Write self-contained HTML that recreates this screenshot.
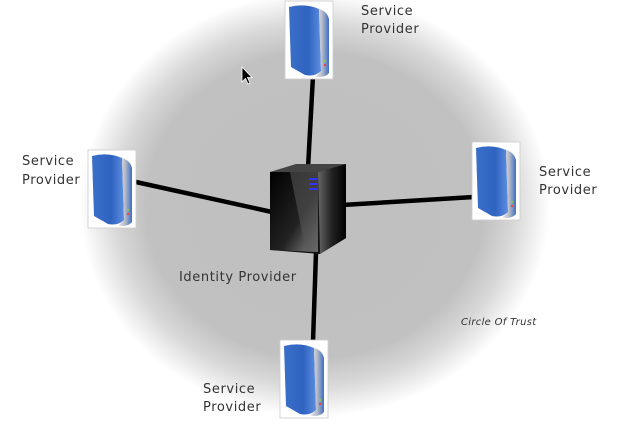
<!DOCTYPE html>
<html><head><style>
html,body{margin:0;padding:0;background:#fff;}
svg{display:block;}
text{font-family:"DejaVu Sans","Liberation Sans",sans-serif;fill:#333;letter-spacing:0.6px;}
</style></head><body>
<svg width="621" height="439" viewBox="0 0 621 439" xmlns="http://www.w3.org/2000/svg">
<defs>
<radialGradient id="bg" cx="0.5" cy="0.5" r="0.5">
<stop offset="0" stop-color="#bfbfbf"/>
<stop offset="0.72" stop-color="#c1c1c1"/>
<stop offset="0.85" stop-color="#d8d8d8"/>
<stop offset="1" stop-color="#ffffff"/>
</radialGradient>
<linearGradient id="blue" x1="0" y1="0" x2="1" y2="0">
<stop offset="0" stop-color="#3a6fc8"/>
<stop offset="0.6" stop-color="#2f63c0"/>
<stop offset="1" stop-color="#5d8de0"/>
</linearGradient>
<linearGradient id="side" x1="0" y1="0" x2="1" y2="0">
<stop offset="0" stop-color="#e8eaf0"/>
<stop offset="0.5" stop-color="#b8bcc8"/>
<stop offset="1" stop-color="#3e6cc4"/>
</linearGradient>
<linearGradient id="blk" x1="0" y1="0" x2="1" y2="1">
<stop offset="0" stop-color="#000"/>
<stop offset="0.6" stop-color="#222"/>
<stop offset="1" stop-color="#888"/>
</linearGradient>
<linearGradient id="blk2" x1="0" y1="0" x2="1" y2="0">
<stop offset="0" stop-color="#666"/>
<stop offset="0.5" stop-color="#222"/>
<stop offset="1" stop-color="#000"/>
</linearGradient>
<g id="sp">
<rect x="0" y="0" width="48" height="78" fill="#fff" stroke="#ccc" stroke-width="0.8"/>
<path d="M4 6 Q20 2 34 8 L36 70 Q30 76 20 74 L6 66 Z" fill="url(#blue)"/>
<path d="M34 8 Q42 10 44 18 L44 72 Q40 77 30 76 L36 70 Z" fill="url(#side)"/>
<circle cx="40" cy="60" r="1.2" fill="#8c4"/>
<circle cx="40" cy="64" r="1.2" fill="#e44"/>
</g>
</defs>
<ellipse cx="315" cy="205" rx="235" ry="212" fill="url(#bg)"/>
<g stroke="#000" stroke-width="4.5" stroke-linecap="butt">
<line x1="313" y1="76" x2="308" y2="168"/>
<line x1="136" y1="182" x2="272" y2="212"/>
<line x1="342" y1="205" x2="474" y2="197"/>
<line x1="316" y1="252" x2="313" y2="342"/>
</g>
<use href="#sp" x="285" y="1"/>
<use href="#sp" x="88" y="150"/>
<use href="#sp" x="472" y="142"/>
<use href="#sp" x="280" y="340"/>
<g>
<path d="M270 172 L296 168 L346 164 L346 238 L320 254 L270 250 Z" fill="#111"/>
<path d="M270 172 L318 172 L318 252 L270 250 Z" fill="url(#blk)"/>
<path d="M290 172 L318 172 L318 252 L306 252 Z" fill="#555" opacity="0.6"/>
<path d="M318 172 L346 164 L346 238 L320 254 Z" fill="url(#blk2)"/>
<path d="M270 172 L296 164 L346 164 L318 172 Z" fill="#444"/>
<rect x="309" y="178" width="8" height="2" fill="#33f"/>
<rect x="309" y="183" width="8" height="2" fill="#33f"/>
<rect x="309" y="188" width="8" height="2" fill="#33f"/>
</g>
<text x="361" y="15" font-size="13">Service</text>
<text x="361" y="33" font-size="13">Provider</text>
<text x="22" y="165" font-size="13">Service</text>
<text x="22" y="184" font-size="13">Provider</text>
<text x="539" y="176" font-size="13">Service</text>
<text x="539" y="194" font-size="13">Provider</text>
<text x="203" y="393" font-size="13">Service</text>
<text x="203" y="411" font-size="13">Provider</text>
<text x="179" y="281" font-size="13">Identity Provider</text>
<text x="461" y="325" font-size="10" font-style="italic" style="letter-spacing:0.3px">Circle Of Trust</text>
<path d="M242 67 L242 82 L245.5 78.5 L248 84 L250 83 L247.5 77.5 L252 77.5 Z" fill="#000" stroke="#fff" stroke-width="0.8"/>
</svg>
</body></html>
